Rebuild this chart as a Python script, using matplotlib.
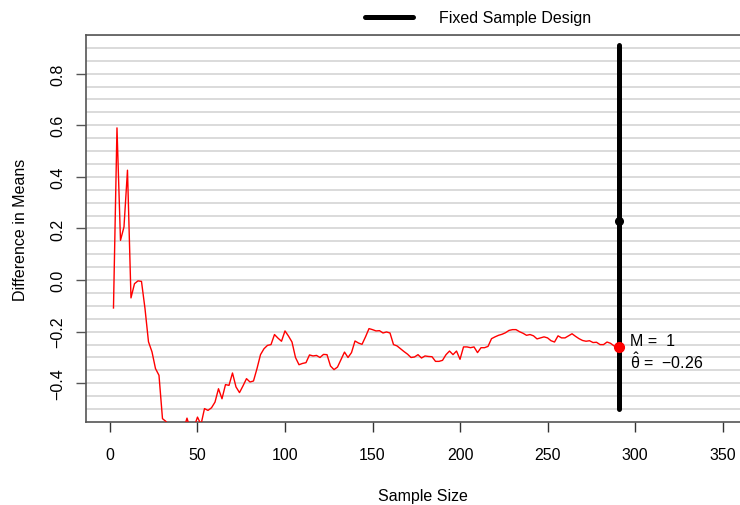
import numpy as np
import matplotlib
matplotlib.use('Agg')
import matplotlib.pyplot as plt

plt.rcParams['font.family'] = ['Liberation Sans', 'DejaVu Sans']
plt.rcParams['mathtext.fontset'] = 'custom'
plt.rcParams['mathtext.rm'] = 'Liberation Sans'

# sample sizes of the sequential look-ups (step 2), last one is the fixed design n
sample_size = list(range(2, 291, 2))
diff_means = [
    -0.108, 0.590, 0.154, 0.206, 0.426, -0.069, -0.014, -0.003, -0.005, -0.110,
    -0.239, -0.278, -0.343, -0.369, -0.537, -0.548, -0.580, -0.600, -0.620, -0.600,
    -0.580, -0.535, -0.580, -0.570, -0.531, -0.560, -0.498, -0.505, -0.495, -0.473,
    -0.421, -0.460, -0.405, -0.408, -0.360, -0.414, -0.436, -0.410, -0.382, -0.395,
    -0.391, -0.343, -0.289, -0.266, -0.253, -0.250, -0.211, -0.225, -0.237, -0.197,
    -0.217, -0.240, -0.300, -0.328, -0.323, -0.320, -0.290, -0.294, -0.292, -0.300,
    -0.288, -0.289, -0.333, -0.347, -0.337, -0.308, -0.279, -0.300, -0.281, -0.236,
    -0.244, -0.249, -0.220, -0.188, -0.192, -0.197, -0.196, -0.205, -0.201, -0.205,
    -0.250, -0.255, -0.266, -0.277, -0.287, -0.300, -0.298, -0.289, -0.302, -0.294,
    -0.296, -0.297, -0.315, -0.315, -0.311, -0.289, -0.275, -0.289, -0.275, -0.307,
    -0.259, -0.259, -0.262, -0.259, -0.281, -0.262, -0.262, -0.257, -0.227, -0.220,
    -0.214, -0.210, -0.204, -0.195, -0.192, -0.192, -0.200, -0.206, -0.214, -0.211,
    -0.216, -0.228, -0.224, -0.220, -0.224, -0.235, -0.240, -0.216, -0.224, -0.224,
    -0.216, -0.208, -0.218, -0.227, -0.234, -0.237, -0.235, -0.242, -0.241, -0.250,
    -0.250, -0.240, -0.245, -0.255, -0.262,
]

design_n = 291
design_upper = 0.91
design_lower = -0.50
design_center = 0.231
final_estimate = -0.26
n_looks = 1

x_ticks = [0, 50, 100, 150, 200, 250, 300, 350]
y_ticks = [-0.4, -0.2, 0.0, 0.2, 0.4, 0.6, 0.8]
grid_levels = np.round(np.arange(-0.50, 0.951, 0.05), 2)

fs = 11.5

fig = plt.figure(figsize=(7.4, 5.06), dpi=100)
ax = fig.add_axes([86 / 740, 1 - 423 / 506, 674 / 740, 387 / 506])
ax.set_xlim(-13.7, 371.4)
ax.set_ylim(-0.55, 0.95)

for g in grid_levels:
    ax.axhline(g, color='#d4d4d4', linewidth=1.2, zorder=0)

xs = sample_size + [design_n]
ys = diff_means + [final_estimate]
ax.plot(xs, ys, color='red', linewidth=1.0, zorder=3)

ax.plot([design_n, design_n], [design_lower, design_upper], color='black',
        linewidth=3.6, solid_capstyle='round', zorder=4, label='Fixed Sample Design')
ax.plot(design_n, design_center, 'o', color='black', markersize=5.5, zorder=5)
ax.plot(design_n, final_estimate, 'o', color='red', markersize=7, zorder=6)

ax.annotate(f'M =  {n_looks}', (design_n, final_estimate), xytext=(8, 5),
            textcoords='offset points', ha='left', va='center', fontsize=fs)
ax.annotate(r'$\mathrm{\hat{\theta}}$ =  ' + f'{final_estimate:.2f}'.replace('-', '\u2212'),
            (design_n, final_estimate), xytext=(8, -9.5),
            textcoords='offset points', ha='left', va='center', fontsize=fs)

ax.set_xticks(x_ticks)
ax.set_yticks(y_ticks)
ax.set_yticklabels([f'{v:.1f}'.replace('-', '\u2212') for v in y_ticks],
                   rotation=90, va='center')
ax.tick_params(axis='x', length=7, width=1, color='#333333', pad=11, labelsize=fs)
ax.tick_params(axis='y', length=7, width=1, color='#555555', pad=8, labelsize=fs)

for side in ['left', 'bottom', 'top', 'right']:
    ax.spines[side].set_color('#555555')
    ax.spines[side].set_linewidth(1.2)

ax.set_xlabel('Sample Size', fontsize=fs, labelpad=19)
ax.set_ylabel('Difference in Means', fontsize=fs, labelpad=16)

ax.legend(loc='center', bbox_to_anchor=(478 / 740, 1 - 19 / 506),
          bbox_transform=fig.transFigure, frameon=False, fontsize=fs,
          handlelength=3.0, handletextpad=1.6)

fig.savefig('out.png', dpi=100)
